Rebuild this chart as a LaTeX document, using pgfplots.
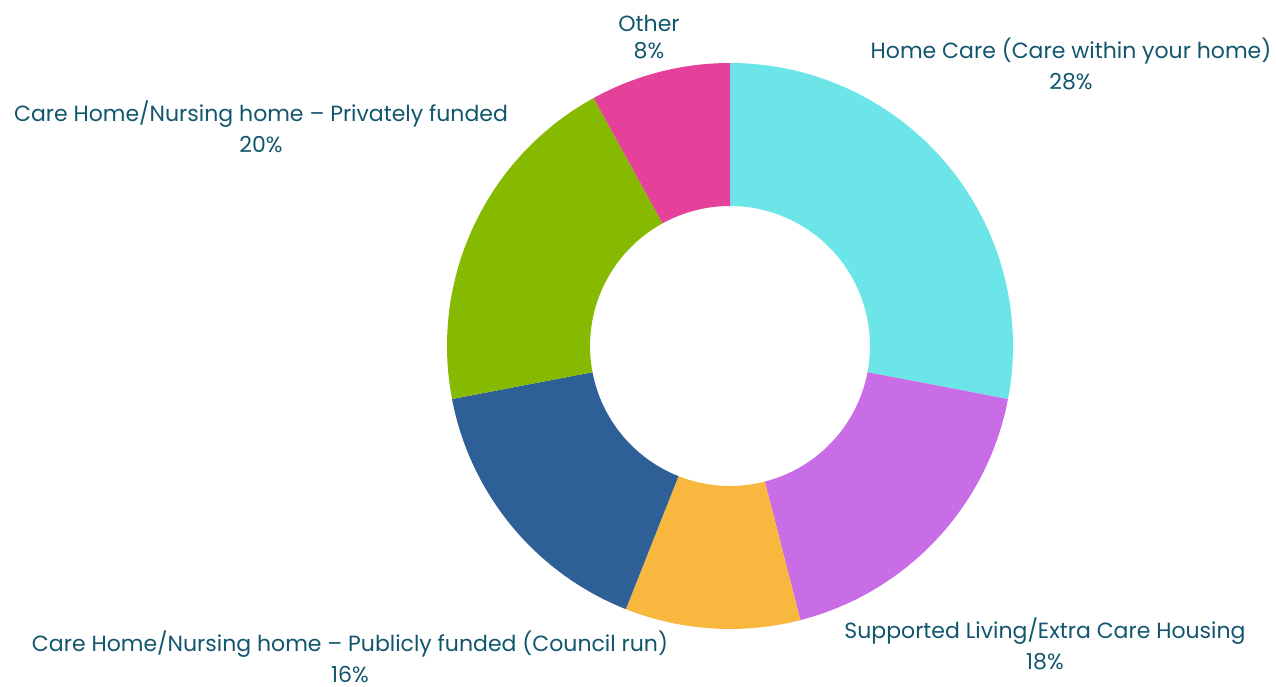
\documentclass[border=0pt]{standalone}
\usepackage{pgfplots}
\pgfplotsset{compat=1.18}
\usepackage{fontspec}
\setmainfont{Poppins}
\definecolor{cHome}{HTML}{6BE5E8}
\definecolor{cSup}{HTML}{C86DE6}
\definecolor{cYel}{HTML}{F8B83F}
\definecolor{cPub}{HTML}{2E5F97}
\definecolor{cPriv}{HTML}{86BA00}
\definecolor{cOth}{HTML}{E5409A}
\definecolor{txt}{HTML}{12566E}
\def\cx{730}\def\cy{340}\def\Ro{283}\def\Ri{140}
% #1 cumulative percent before slice, #2 slice percent, #3 colour
\newcommand\slice[3]{%
  \fill[#3] ([shift={({90-3.6*(#1)}:\Ro pt)}]axis cs:\cx,\cy)
    arc[start angle={90-3.6*(#1)}, end angle={90-3.6*(#1+#2)}, radius=\Ro pt]
    -- ([shift={({90-3.6*(#1+#2)}:\Ri pt)}]axis cs:\cx,\cy)
    arc[start angle={90-3.6*(#1+#2)}, end angle={90-3.6*(#1)}, radius=\Ri pt]
    -- cycle;}
\begin{document}
\begin{tikzpicture}
\begin{axis}[
  x=1pt, y=1pt, scale only axis, disabledatascaling,
  xmin=0, xmax=1276, ymin=0, ymax=686,
  hide axis, clip=false]
\path (axis cs:0,0) rectangle (axis cs:1276,686);
% values: Home Care 28, Supported Living 18, (unlabelled) 10, Publicly funded 16, Privately funded 20, Other 8
\slice{0}{28}{cHome}
\slice{28}{18}{cSup}
\slice{46}{10}{cYel}
\slice{56}{16}{cPub}
\slice{72}{20}{cPriv}
\slice{92}{8}{cOth}
\tikzset{lbl/.style={align=center, text=txt, font=\fontsize{22}{31}\selectfont, inner sep=0pt}}
\node[lbl, font=\fontsize{22}{27}\selectfont] at (axis cs:649,649) {Other\\8\%};
\node[lbl] at (axis cs:1071,622) {Home Care (Care within your home)\\28\%};
\node[lbl] at (axis cs:261,559) {Care Home/Nursing home – Privately funded\\20\%};
\node[lbl] at (axis cs:1045,42) {Supported Living/Extra Care Housing\\18\%};
\node[lbl] at (axis cs:350,29) {Care Home/Nursing home – Publicly funded (Council run)\\16\%};
\end{axis}
\end{tikzpicture}
\end{document}
